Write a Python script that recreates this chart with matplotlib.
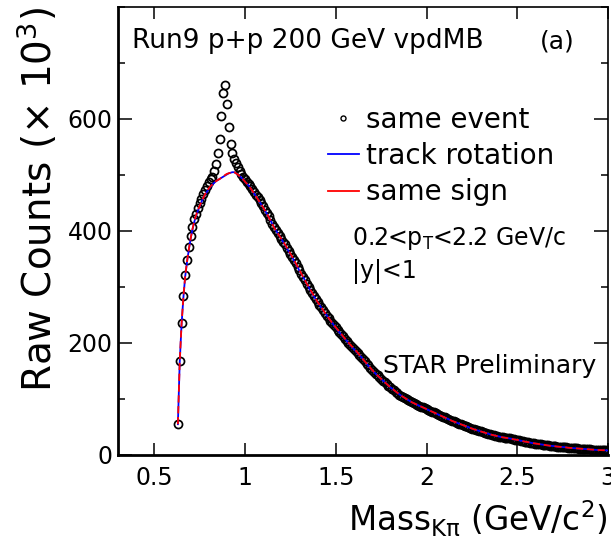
import numpy as np
import matplotlib
matplotlib.use('agg')
import matplotlib.pyplot as plt
from matplotlib.ticker import MultipleLocator, FuncFormatter
from matplotlib.lines import Line2D

# K-pi invariant mass bins (GeV/c^2)
mass_lo = np.round(np.arange(0.63, 0.995, 0.01), 2)
mass_se_hi = np.round(np.arange(1.00, 3.0005, 0.01), 2)   # same event: 0.01 bins everywhere
mass_bg_hi = np.round(np.arange(1.00, 3.001, 0.02), 2)    # background curves: 0.02 above 1 GeV
mass_se = np.concatenate([mass_lo, mass_se_hi])
mass_bg = np.concatenate([mass_lo, mass_bg_hi])

# raw counts (x 10^3)
same_event_lo = [55, 168, 235, 284, 322, 348, 371, 391, 408, 421,
                 431, 441, 450, 458, 466, 473, 480, 487, 492, 497,
                 507, 520, 539, 565, 606, 646, 661, 626, 585, 556,
                 540, 528, 521, 514, 508, 502, 497]
same_event_hi = [492, 488, 484, 480, 475, 470, 465, 460, 455, 450,
                 444, 438, 432, 426, 420, 413, 407, 402, 397, 391,
                 386, 381, 376, 370, 365, 359, 354, 348, 342, 336,
                 330, 324, 318, 312, 306, 300, 295, 289, 284, 278,
                 273, 268, 264, 259, 254, 249, 245, 240, 236, 232,
                 228, 224, 220, 216, 212, 208, 204, 200, 197, 193,
                 190, 186, 183, 179, 175, 171, 167, 163, 160, 156,
                 152, 148, 145, 142, 139, 136, 133, 130, 127, 124,
                 121, 118, 116, 113, 111, 108, 106, 104, 102, 100,
                 98, 96, 94, 92.5, 91, 89.5, 88, 86.5, 85, 83.5,
                 82, 80.5, 79, 77.5, 76, 74.5, 73, 71.5, 70, 68.5,
                 67, 65.5, 64, 62.5, 61, 60, 58.5, 57, 56, 55,
                 53.5, 52, 51, 50, 48.5, 47, 46, 45, 44, 43,
                 42, 41, 40, 39, 38, 37, 36, 35, 34.5, 34,
                 33, 32, 31.5, 31, 30.5, 30, 29.5, 28.5, 28, 27.5,
                 27, 26, 25.5, 25, 24, 23.5, 23, 22, 21.5, 21,
                 20.5, 20, 19.5, 19, 18.5, 18, 17.5, 17, 16.5, 16.2,
                 16, 15.5, 15, 14.8, 14.5, 14.2, 14, 13.5, 13, 12.8,
                 12.5, 12.2, 12, 11.8, 11.5, 11.2, 11, 10.8, 10.5, 10.2,
                 10, 9.8, 9.5, 9.2, 9, 8.9, 8.8, 8.6, 8.5, 8.2,
                 8]

rotation_lo = [55, 165, 232, 280, 318, 344, 366, 386, 402, 416,
               427, 436, 444, 452, 459, 465, 470, 475, 479, 483,
               486, 489, 491, 493, 495, 497, 499, 501, 503, 504,
               505, 505, 503, 501, 498, 495, 492]
rotation_hi = [488, 481, 472, 462, 452, 442, 431, 419, 407, 396,
               386, 375, 364, 353, 341, 329, 318, 306, 294, 283,
               273, 263, 254, 245, 236, 227, 219, 211, 204, 196,
               189, 182, 175, 167, 159, 152, 145, 139, 133, 127,
               121, 116, 111, 106, 102, 98, 94, 91, 88, 85,
               82, 79, 76, 73, 70, 67, 64, 61, 58.5, 56,
               53.5, 51, 48.5, 46, 44, 42, 40, 38, 36, 34.5,
               33, 31.5, 30.5, 29.5, 28, 27, 25.5, 24, 23, 21.5,
               20.5, 19.5, 18.5, 17.5, 16.5, 16, 15, 14.5, 14, 13,
               12.5, 12, 11.5, 11, 10.5, 10, 9.5, 9, 8.8, 8.5,
               8]

same_sign_lo = [55, 166, 233, 281, 318, 345, 367, 386, 403, 417,
                428, 437, 445, 452, 459, 466, 471, 476, 480, 483,
                486, 489, 491, 493, 495, 497, 500, 502, 503, 504,
                505, 505, 503, 501, 498, 495, 492]
same_sign_hi = [488, 481, 472, 462, 452, 442, 431, 419, 406, 396,
                386, 376, 365, 354, 342, 330, 318, 306, 295, 284,
                273, 264, 254, 245, 236, 228, 220, 212, 204, 197,
                190, 183, 175, 167, 160, 152, 145, 139, 133, 127,
                121, 116, 111, 106, 102, 98, 94, 91, 88, 85,
                82, 79, 76, 73, 70, 67, 64, 61, 58.5, 56,
                53.5, 51, 48.5, 46, 44, 42, 40, 38, 36, 34.5,
                33, 31.5, 30.5, 29.5, 28, 27, 25.5, 24, 23, 21.5,
                20.5, 19.5, 18.5, 17.5, 16.5, 16, 15, 14.5, 14, 13,
                12.5, 12, 11.5, 11, 10.5, 10, 9.5, 9, 8.8, 8.5,
                8]

same_event = same_event_lo + same_event_hi
rotation = rotation_lo + rotation_hi
same_sign = same_sign_lo + same_sign_hi

plt.rcParams['font.family'] = ['DejaVu Sans']
plt.rcParams['mathtext.default'] = 'regular'

fig = plt.figure(figsize=(6.11, 5.48), dpi=100)
ax = fig.add_axes([118/611, 1 - 455/548, 490/611, 448/548])

ax.plot(mass_se, same_event, 'o', ms=5.8, mfc='none', mec='black', mew=1.25, zorder=2)
ax.plot(mass_bg, rotation, '-', color='blue', lw=1.3, zorder=3)
ax.plot(mass_bg, same_sign, '-', color='red', lw=1.3, dashes=(4, 2), zorder=4)

ax.set_xlim(0.3, 3.0)
ax.set_ylim(0, 800)

ax.xaxis.set_major_locator(MultipleLocator(0.5))
ax.xaxis.set_major_formatter(FuncFormatter(lambda v, p: f'{v:g}'))
ax.set_yticks([0, 200, 400, 600])
ax.yaxis.set_minor_locator(MultipleLocator(100))
ax.tick_params(which='both', direction='in', top=True, right=True, width=1.1)
ax.tick_params(axis='x', which='major', length=8.5, labelsize=17, pad=8)
ax.tick_params(axis='y', which='major', length=10, labelsize=17, pad=4)
ax.tick_params(axis='y', which='minor', length=5)

for side in ['left', 'bottom']:
    ax.spines[side].set_linewidth(2.0)
for side in ['top', 'right']:
    ax.spines[side].set_linewidth(1.2)

ax.set_xlabel(r'Mass$_{K\pi}$ (GeV/c$^{2}$)', fontsize=23.5, loc='right', labelpad=6)
ax.set_ylabel(r'Raw Counts ($\times$ 10$^{3}$)', fontsize=28, loc='top')
ax.yaxis.set_label_coords(-0.118, 1.0)

ax.text(0.028, 0.908, 'Run9 p+p 200 GeV vpdMB', transform=ax.transAxes,
        fontsize=19, va='baseline')
ax.text(0.931, 0.908, '(a)', transform=ax.transAxes, fontsize=18,
        va='baseline', ha='right')
ax.text(0.477, 0.469, r'0.2<p$_{T}$<2.2 GeV/c', transform=ax.transAxes,
        fontsize=17, va='baseline')
ax.text(0.477, 0.395, '|y|<1', transform=ax.transAxes, fontsize=17, va='baseline')
ax.text(0.540, 0.183, 'STAR Preliminary', transform=ax.transAxes,
        fontsize=18, va='baseline')

handles = [Line2D([], [], ls='none', marker='o', ms=3.6, mfc='none', mec='black', mew=1.0),
           Line2D([], [], color='blue', lw=1.3),
           Line2D([], [], color='red', lw=1.3)]
ax.legend(handles, ['same event', 'track rotation', 'same sign'],
          loc='upper left', bbox_to_anchor=(0.4286, 0.78), frameon=False,
          fontsize=20, handlelength=1.1, handletextpad=0.25,
          labelspacing=0.3, borderpad=0, borderaxespad=0)

plt.savefig('out.png', dpi=100)
